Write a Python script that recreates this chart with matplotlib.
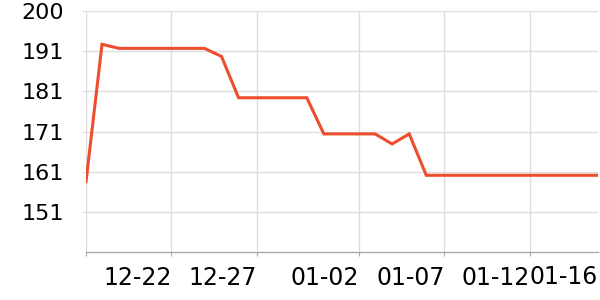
import matplotlib
matplotlib.use("Agg")
import matplotlib.pyplot as plt
import matplotlib.dates as mdates
import pandas as pd

# price readings
times = [
    "2023-12-17 00:00", "2023-12-17 22:30", "2023-12-18 22:30", "2023-12-19 22:30",
    "2023-12-20 22:30", "2023-12-21 22:30", "2023-12-22 22:30", "2023-12-23 22:30",
    "2023-12-24 22:30", "2023-12-25 22:30", "2023-12-26 22:30", "2023-12-27 22:30",
    "2023-12-28 22:30", "2023-12-29 22:30", "2023-12-30 22:30", "2023-12-31 22:30",
    "2024-01-01 22:30", "2024-01-02 22:30", "2024-01-03 22:30", "2024-01-04 22:30",
    "2024-01-05 22:30", "2024-01-06 22:30", "2024-01-07 22:30", "2024-01-08 22:30",
    "2024-01-09 22:30", "2024-01-10 22:30", "2024-01-11 22:30", "2024-01-12 22:30",
    "2024-01-13 22:30", "2024-01-14 22:30", "2024-01-15 22:30", "2024-01-16 00:00",
]
values = [
    158.5, 192.7, 191.7, 191.7,
    191.7, 191.7, 191.7, 191.7,
    189.7, 179.4, 179.4, 179.4,
    179.4, 179.4, 170.4, 170.4,
    170.4, 170.4, 167.9, 170.4,
    160.1, 160.1, 160.1, 160.1,
    160.1, 160.1, 160.1, 160.1,
    160.1, 160.1, 160.1, 160.1,
]

x_ticks = ["2023-12-17", "2023-12-22", "2023-12-27", "2024-01-02", "2024-01-07", "2024-01-12"]
x_tick_labels = ["", "12-22", "12-27", "01-02", "01-07", "01-12"]
x_last_tick = "2024-01-16"
x_last_label = "01-16"
y_ticks = [151, 161, 171, 181, 191, 201]
y_tick_labels = ["151", "161", "171", "181", "191", "200"]

t = pd.to_datetime(times)

fig = plt.figure(figsize=(6, 3), dpi=100)
ax = fig.add_axes([86 / 600, 48 / 300, 512 / 600, 241 / 300])

ax.plot(t, values, color="#ee4d2d", lw=2.2, solid_joinstyle="miter", zorder=3)

ax.set_xlim(t[0], pd.Timestamp(x_last_tick))
ax.set_ylim(141, 201)

ax.set_xticks(pd.to_datetime(x_ticks))
ax.set_xticklabels(x_tick_labels, ha="right")
ax.set_xticks([mdates.date2num(pd.Timestamp(x_last_tick))], minor=True)
ax.set_xticklabels([x_last_label], minor=True, ha="right")
ax.tick_params(axis="x", which="major", length=3, color="#aaaaaa", labelsize=17, pad=7)
ax.tick_params(axis="x", which="minor", length=0, labelsize=17, pad=9.2)

ax.set_yticks(y_ticks)
ax.set_yticklabels(y_tick_labels)
ax.tick_params(axis="y", length=3, color="#dddddd", labelsize=16, pad=13)

ax.grid(True, which="major", color="#dddddd", lw=1)
for s in ["top", "right", "left"]:
    ax.spines[s].set_visible(False)
ax.spines["bottom"].set_color("#aaaaaa")
ax.spines["bottom"].set_linewidth(1)

fig.savefig("out.png", dpi=100)
